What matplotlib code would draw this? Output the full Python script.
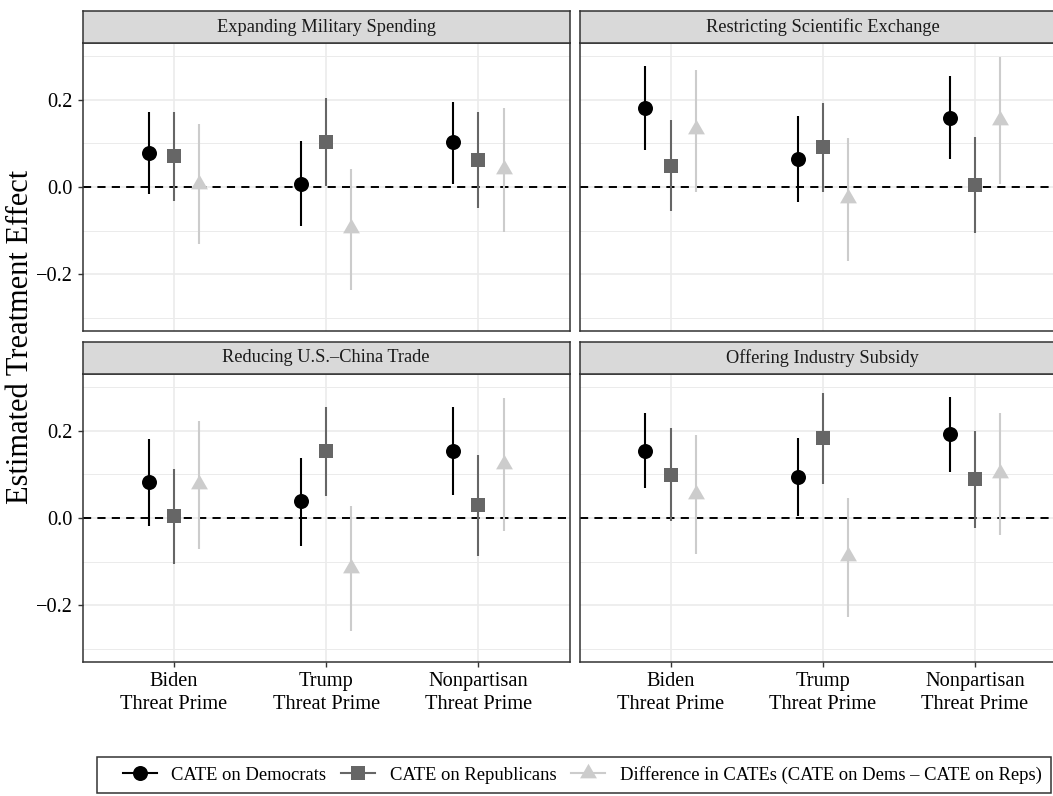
import numpy as np
import matplotlib
matplotlib.use('Agg')
import matplotlib.pyplot as plt
from matplotlib.lines import Line2D
from matplotlib.patches import Rectangle

plt.rcParams['font.family'] = ['Liberation Serif', 'DejaVu Serif']

# ---------------- data ----------------
categories = ["Biden\nThreat Prime", "Trump\nThreat Prime", "Nonpartisan\nThreat Prime"]
panel_titles = ["Expanding Military Spending", "Restricting Scientific Exchange",
                "Reducing U.S.\u2013China Trade", "Offering Industry Subsidy"]
series_labels = ["CATE on Democrats", "CATE on Republicans",
                 "Difference in CATEs (CATE on Dems \u2013 CATE on Reps)"]

dem_est = [[0.079, 0.008, 0.103], [0.181, 0.065, 0.159], [0.082, 0.038, 0.154], [0.155, 0.095, 0.192]]
dem_lo  = [[-0.017, -0.089, 0.008], [0.085, -0.034, 0.064], [-0.018, -0.065, 0.052], [0.068, 0.005, 0.105]]
dem_hi  = [[0.173, 0.106, 0.196], [0.277, 0.163, 0.255], [0.182, 0.139, 0.254], [0.242, 0.185, 0.277]]

rep_est = [[0.072, 0.104, 0.063], [0.049, 0.093, 0.005], [0.005, 0.155, 0.030], [0.098, 0.185, 0.090]]
rep_lo  = [[-0.032, 0.003, -0.048], [-0.055, -0.011, -0.105], [-0.105, 0.051, -0.087], [-0.007, 0.079, -0.022]]
rep_hi  = [[0.173, 0.205, 0.172], [0.153, 0.194, 0.116], [0.113, 0.255, 0.145], [0.206, 0.288, 0.199]]

diff_est = [[0.008, -0.095, 0.041], [0.133, -0.026, 0.154], [0.079, -0.115, 0.125], [0.056, -0.088, 0.104]]
diff_lo  = [[-0.131, -0.237, -0.104], [-0.011, -0.169, 0.007], [-0.071, -0.260, -0.031], [-0.083, -0.227, -0.038]]
diff_hi  = [[0.145, 0.042, 0.182], [0.270, 0.113, 0.298], [0.224, 0.027, 0.275], [0.191, 0.047, 0.241]]

y_ticks = [-0.2, 0.0, 0.2]
y_tick_labels = ["\u22120.2", "0.0", "0.2"]
y_minor = [-0.3, -0.1, 0.1, 0.3]

# ---------------- style ----------------
colors = ["#000000", "#666666", "#cccccc"]
tri = [(0, 0.577), (-0.5, -0.289), (0.5, -0.289), (0, 0.577)]
markers = ["o", "s", tri]
msizes = [10.8, 10.0, 14.0]
offsets = [-1/6, 0.0, 1/6]

W, H = 1053, 796
fig = plt.figure(figsize=(W/100, H/100), dpi=100)

def add_ax(l, t, r, b):
    return fig.add_axes([l/W, 1 - b/H, (r - l)/W, (b - t)/H])

panel_px = [
    (82.7, 43, 569.5, 331, 11),
    (579.5, 43, 1066.3, 331, 11),
    (82.7, 374, 569.5, 662, 342),
    (579.5, 374, 1066.3, 662, 342),
]

grey20 = "#333333"
x = np.arange(1, len(categories) + 1)

for i, (l, t, r, b, st) in enumerate(panel_px):
    ax = add_ax(l, t, r, b)
    ax.set_xlim(0.4, 3.6)
    ax.set_ylim(-0.331, 0.331)
    ax.set_facecolor("white")
    # grid
    for yv in y_minor:
        ax.axhline(yv, color="#ebebeb", lw=0.7, zorder=0)
    for yv in y_ticks:
        ax.axhline(yv, color="#ebebeb", lw=1.2, zorder=0)
    for xv in x:
        ax.axvline(xv, color="#ebebeb", lw=1.2, zorder=0)
    ax.axhline(0, color="black", lw=1.4, ls=(0, (4.2, 3.2)), zorder=1)

    ests = [dem_est[i], rep_est[i], diff_est[i]]
    los = [dem_lo[i], rep_lo[i], diff_lo[i]]
    his = [dem_hi[i], rep_hi[i], diff_hi[i]]
    for s in range(3):
        xs = x + offsets[s]
        ax.vlines(xs, los[s], his[s], color=colors[s], lw=1.5, zorder=2)
        ax.plot(xs, ests[s], ls="none", marker=markers[s], ms=msizes[s],
                color=colors[s], mec=colors[s], mew=0, zorder=3)

    for sp in ax.spines.values():
        sp.set_color(grey20)
        sp.set_linewidth(1.1)
    ax.set_xticks(x)
    ax.set_yticks(y_ticks)
    ax.tick_params(axis="both", length=3.3, width=1.0, color=grey20,
                   labelsize=14.7, labelcolor="black", pad=4)
    if i >= 2:
        ax.set_xticklabels(categories, linespacing=1.25)
    else:
        ax.tick_params(axis="x", length=0, labelbottom=False)
    if i % 2 == 0:
        ax.set_yticklabels(y_tick_labels)
    else:
        ax.tick_params(axis="y", length=0, labelleft=False)

    # strip
    sax = add_ax(l, st, r, t)
    sax.set_facecolor("#d9d9d9")
    sax.set_xticks([]); sax.set_yticks([])
    for sp in sax.spines.values():
        sp.set_color(grey20)
        sp.set_linewidth(1.1)
    sax.text(0.5, 0.5, panel_titles[i], transform=sax.transAxes, ha="center",
             va="center", fontsize=13.25, color="#1a1a1a")

# y label
fig.text(21/W, 1 - 336.5/H, "Estimated Treatment Effect", rotation=90,
         ha="center", va="center", fontsize=22, color="black")

# legend
handles = [Line2D([], [], color=colors[s], lw=1.5, marker=markers[s], ms=msizes[s],
                  mew=0) for s in range(3)]
leg = fig.legend(handles, series_labels, ncol=3, loc="center left",
                 bbox_to_anchor=(123/W, 1 - 775/H), frameon=False, fontsize=13.4,
                 handlelength=1.8, handletextpad=0.8, columnspacing=0.8,
                 borderpad=0, borderaxespad=0, numpoints=1)
fig.patches.append(Rectangle((97/W, 1 - 793/H), (1051 - 97)/W, (793 - 757)/H,
                             transform=fig.transFigure, fill=False,
                             edgecolor=grey20, lw=1.1))

fig.savefig("out.png", dpi=100)
